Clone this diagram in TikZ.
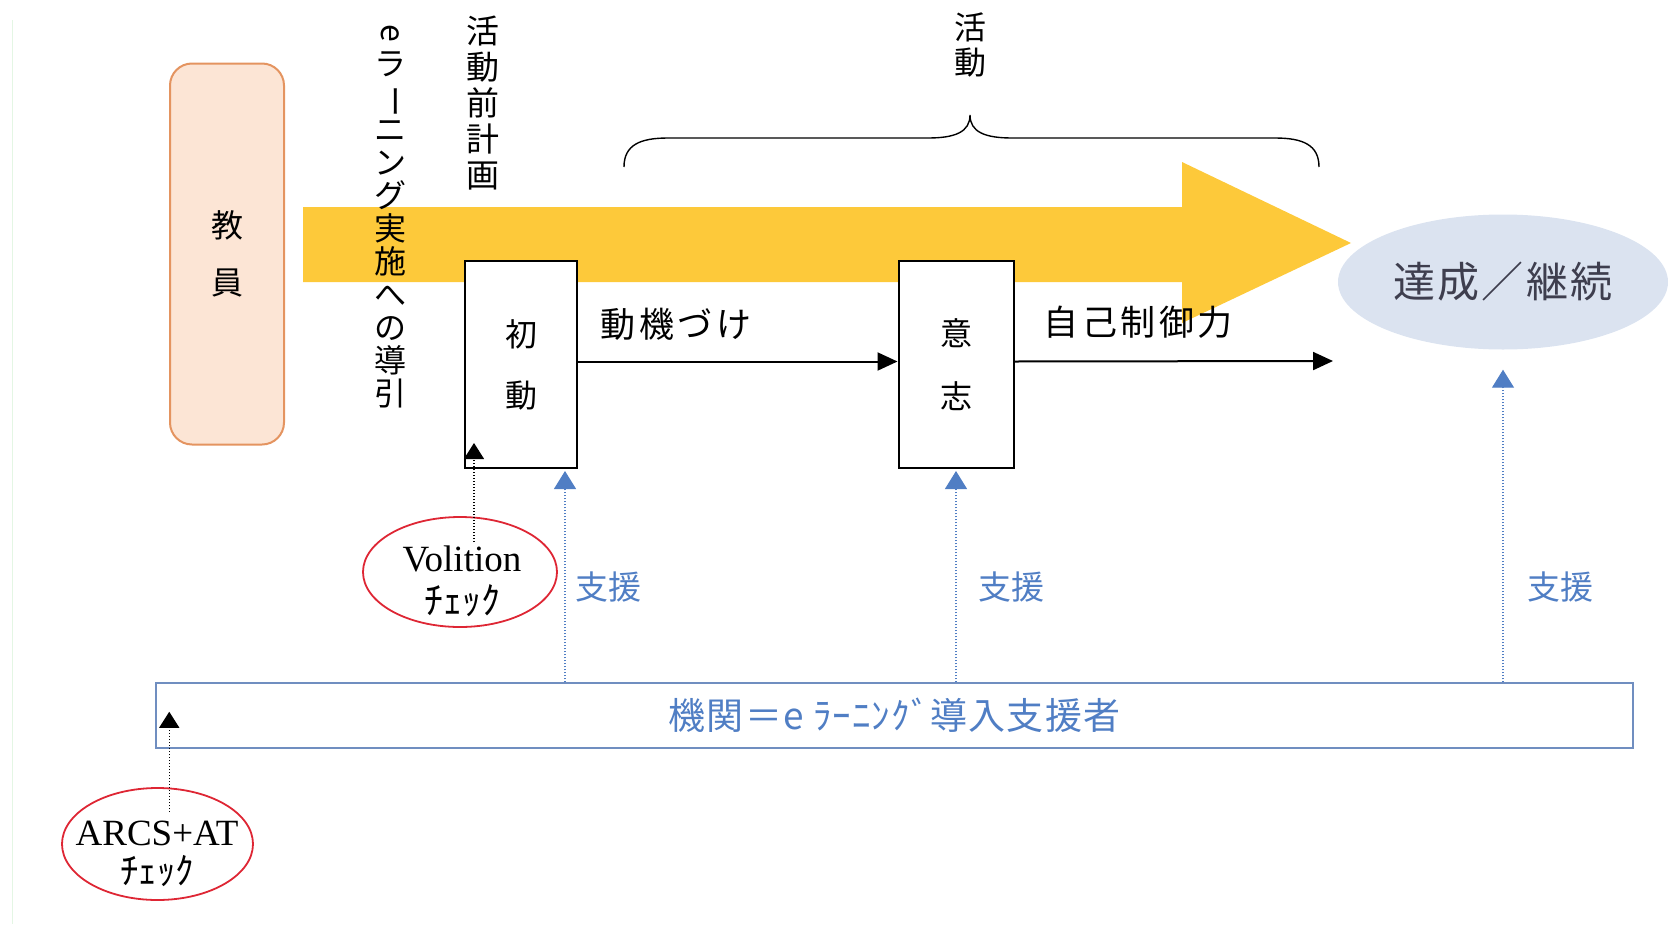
\documentclass[tikz,border=0pt]{standalone}
\usepackage{fontspec}
\setmainfont{Noto Sans CJK JP}
\newfontfamily\latinserif{Liberation Serif}
\newfontfamily\jpwide[LetterSpace=10]{Noto Sans CJK JP}
\newfontfamily\jpbar[LetterSpace=3]{Noto Sans CJK JP}
\newfontfamily\jpgoal[LetterSpace=5]{Noto Sans CJK JP}
\usetikzlibrary{arrows.meta,shapes.geometric,calc}
\definecolor{arrowyellow}{RGB}{253,201,58}
\definecolor{peachfill}{RGB}{252,229,213}
\definecolor{peachdraw}{RGB}{228,148,96}
\definecolor{checkred}{RGB}{222,38,52}
\definecolor{supblue}{RGB}{80,126,196}
\definecolor{barblue}{RGB}{112,142,192}
\definecolor{goalfill}{RGB}{219,227,240}
\definecolor{goaltext}{RGB}{62,62,78}
\definecolor{edgegreen}{RGB}{228,246,228}
\newcommand{\fs}[2]{\fontsize{#1}{#2}\selectfont}
\tikzset{
  teacherbox/.style={draw=peachdraw, fill=peachfill, line width=2pt, rounded corners=22pt, minimum width=114pt, minimum height=381pt, inner sep=0pt, align=center, font=\fs{32}{57}},
  stagebox/.style={draw=black, fill=white, line width=2pt, minimum width=112pt, minimum height=207pt, inner sep=0pt, align=center},
  vtext/.style={inner sep=0pt, align=center},
  lbl/.style={inner sep=0pt, font=\jpwide\fs{35}{35}},
  suplbl/.style={inner sep=0pt, text=supblue, font=\fs{33}{33}},
  flow/.style={draw=black, line width=2pt, -{Triangle[length=20pt,width=18pt]}},
  supparrow/.style={draw=supblue, line width=1.2pt, dash pattern=on 1.5pt off 1.5pt, -{Triangle[length=18pt,width=22pt]}},
  checkarrow/.style={draw=black, line width=1.2pt, dash pattern=on 1.5pt off 1.5pt, -{Triangle[length=16pt,width=20pt]}},
  checkell/.style={ellipse, draw=checkred, line width=1.8pt, inner sep=0pt},
  checktext/.style={inner sep=0pt, align=center},
}
\begin{document}
\begin{tikzpicture}[x=1pt,y=-1pt]
\useasboundingbox (0,0) rectangle (1668,924);
\draw[edgegreen, line width=1pt] (12,20) -- (12,924);
% big yellow arrow
\fill[arrowyellow] (303,207) -- (1182,207) -- (1182,162) -- (1351,243) -- (1182,323) -- (1182,282) -- (303,282) -- cycle;
\node[teacherbox] (teacher) at (227,254) {教\\員};
\node[vtext, font=\fs{32}{33}] (intro) at (390,216) {\rotatebox[origin=c]{-90}{e}\\ラ\\\rotatebox[origin=c]{-90}{ー}\\ニ\\ン\\グ\\実\\施\\へ\\の\\導\\引};
\node[vtext, font=\fs{33}{36}] (plan) at (483,103) {活\\動\\前\\計\\画};
\node[vtext, font=\fs{32}{35}] (activity) at (970,45) {活\\動};
\draw[line width=1.4pt] (624,167) .. controls (624,145) and (640,138) .. (668,138) -- (928,138) .. controls (955,138) and (970,132) .. (970,115) .. controls (970,132) and (985,138) .. (1012,138) -- (1275,138) .. controls (1303,138) and (1319,145) .. (1319,167);
\node[stagebox, font=\fs{32}{61}] (shodo) at (521,364.5) {初\\動};
\node[stagebox, font=\fs{32}{63}, minimum width=115pt] (ishi) at (956,364.5) {意\\志};
\node[ellipse, fill=goalfill, minimum width=330pt, minimum height=135pt, inner sep=0pt, text=goaltext, font=\jpgoal\fs{42}{42}] (goal) at (1503,282) {達成／継続};
\coordinate (flowend) at (1333,361);
\draw[flow] ($(shodo.east)+(0,-3)$) -- ($(ishi.west)+(0,-3)$);
\draw[flow] ($(ishi.east)+(0,-3)$) -- (flowend);
\node[lbl] (motiv) at (676,324) {動機づけ};
\node[lbl] (selfreg) at (1138,322) {自己制御力};
\node[draw=barblue, line width=1.5pt, minimum width=1477pt, minimum height=65pt, inner sep=0pt, text=supblue, font=\jpbar\fs{37}{37}] (bar) at (894.5,715.5) {機関＝e ﾗｰﾆﾝｸﾞ導入支援者};
% support arrows
\coordinate (s1) at ($(shodo.south east)+(-13,2)$);
\coordinate (s2) at ($(ishi.south)+(0,2)$);
\coordinate (s3) at ($(goal.south)+(0,20)$);
\draw[supparrow] (bar.north -| s1) -- (s1);
\draw[supparrow] (bar.north -| s2) -- (s2);
\draw[supparrow] (bar.north -| s3) -- (s3);
\node[suplbl] (sup1) at (608,587) {支援};
\node[suplbl] (sup2) at (1011,587) {支援};
\node[suplbl] (sup3) at (1560,587) {支援};
% check ellipses
\node[checkell, minimum width=194pt, minimum height=110pt] (vol) at (460,572) {};
\node[checktext, font=\fs{38}{43}] (voltext) at (462,581) {{\latinserif\fontsize{37}{43}\selectfont Volition}\\ﾁｪｯｸ};
\node[checkell, minimum width=191pt, minimum height=112pt] (arcs) at (157.5,844) {};
\node[checktext, font=\fs{37}{39}] (arcstext) at (157,854) {{\latinserif\fontsize{37}{39}\selectfont ARCS+AT}\\ﾁｪｯｸ};
\coordinate (v1) at ($(shodo.south west)+(10,-26)$);
\draw[checkarrow] ($(vol.north -| v1)+(0,26)$) -- (v1);
\coordinate (a1) at ($(bar.south west)+(14,-37)$);
\draw[checkarrow] ($(arcs.north -| a1)+(0,25)$) -- (a1);
\end{tikzpicture}
\end{document}
